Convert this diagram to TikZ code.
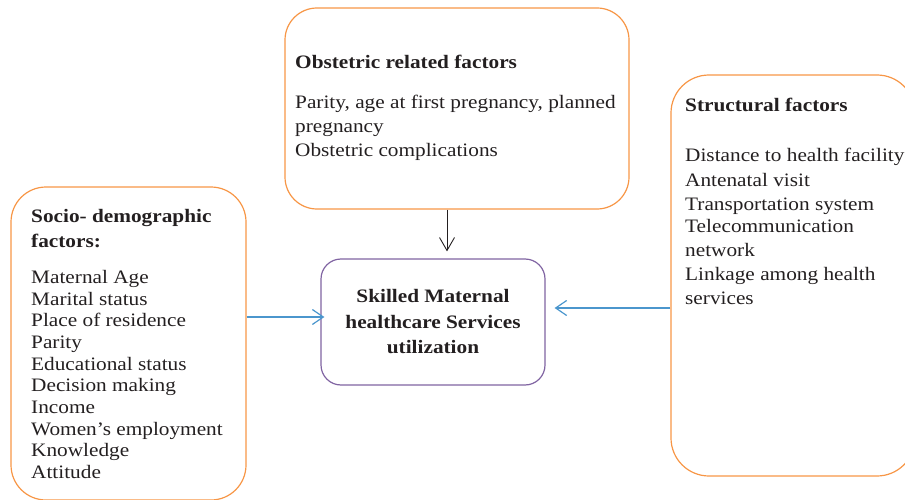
\documentclass[tikz,border=0pt]{standalone}
\usepackage{fontspec}
\setmainfont{Liberation Serif}[FakeStretch=1.12]
\usetikzlibrary{arrows.meta}
\definecolor{boxorange}{RGB}{247,150,70}
\definecolor{boxpurple}{RGB}{128,100,162}
\definecolor{linkblue}{RGB}{75,150,205}
\definecolor{inkgray}{RGB}{35,31,32}

\begin{document}
\begin{tikzpicture}[x=1pt,y=-1pt,
    factorbox/.style={draw=boxorange,line width=1.2pt,rounded corners=32pt,inner sep=0pt},
    targetbox/.style={draw=boxpurple,line width=1.2pt,rounded corners=20pt,inner sep=0pt,
      minimum width=224pt,minimum height=126pt,align=center,text=inkgray,
      font=\bfseries\fontsize{19}{25.5}\selectfont},
    titletext/.style={anchor=north west,inner sep=0pt,align=left,text=inkgray,
      font=\bfseries\fontsize{19}{25}\selectfont},
    bodytext/.style={anchor=north west,inner sep=0pt,align=left,text=inkgray,
      font=\fontsize{19}{21.7}\selectfont},
    bluelink/.style={draw=linkblue,line width=1.5pt,-{Straight Barb[length=11pt,width=15pt,line width=1.2pt]}},
    blacklink/.style={draw=inkgray,line width=0.9pt,-{Straight Barb[length=13pt,width=15pt]}}]
    \useasboundingbox (0,0) rectangle (905,500);

    % Factor boxes
    \node[factorbox,minimum width=344pt,minimum height=201pt] (obstetric) at (457,108.5) {};
    \node[factorbox,minimum width=235pt,minimum height=313pt,rounded corners=35pt] (socio) at (128.5,343.5) {};
    \node[factorbox,minimum width=244pt,minimum height=401pt,rounded corners=38pt] (structural) at (793,275.5) {};

    % Outcome
    \node[targetbox] (skilled) at (433,322) {Skilled Maternal\\healthcare Services\\utilization};

    % Box texts
    \node[titletext] (obstetrictitle) at (295,55) {Obstetric related factors};
    \node[bodytext,font=\fontsize{19}{24}\selectfont] (obstetricbody) at (295,95)
      {Parity, age at first pregnancy, planned\\pregnancy\\Obstetric complications};

    \node[titletext] (sociotitle) at (31,209) {Socio- demographic\\factors:};
    \node[bodytext] (sociobody) at (31,270)
      {Maternal Age\\Marital status\\Place of residence\\Parity\\Educational status\\
       Decision making\\Income\\Women’s employment\\Knowledge\\Attitude};

    \node[titletext] (structuraltitle) at (685,98) {Structural factors};
    \node[bodytext,font=\fontsize{19}{24}\selectfont] (structuralbody) at (685,148)
      {Distance to health facility\\[1pt]Antenatal visit\\Transportation system\\[-2pt]
       Telecommunication\\network\\Linkage among health\\services};

    % Connectors
    \draw[blacklink,shorten >=7pt] ([xshift=-10pt]obstetric.south) -- ([xshift=-10pt]obstetric.south |- skilled.north);
    \draw[bluelink] (socio.east |- {(0,317)}) -- ([xshift=4pt,yshift=5pt]skilled.west);
    \draw[bluelink] (structural.west |- {(0,308)}) -- ([xshift=9pt,yshift=14pt]skilled.east);
\end{tikzpicture}
\end{document}
